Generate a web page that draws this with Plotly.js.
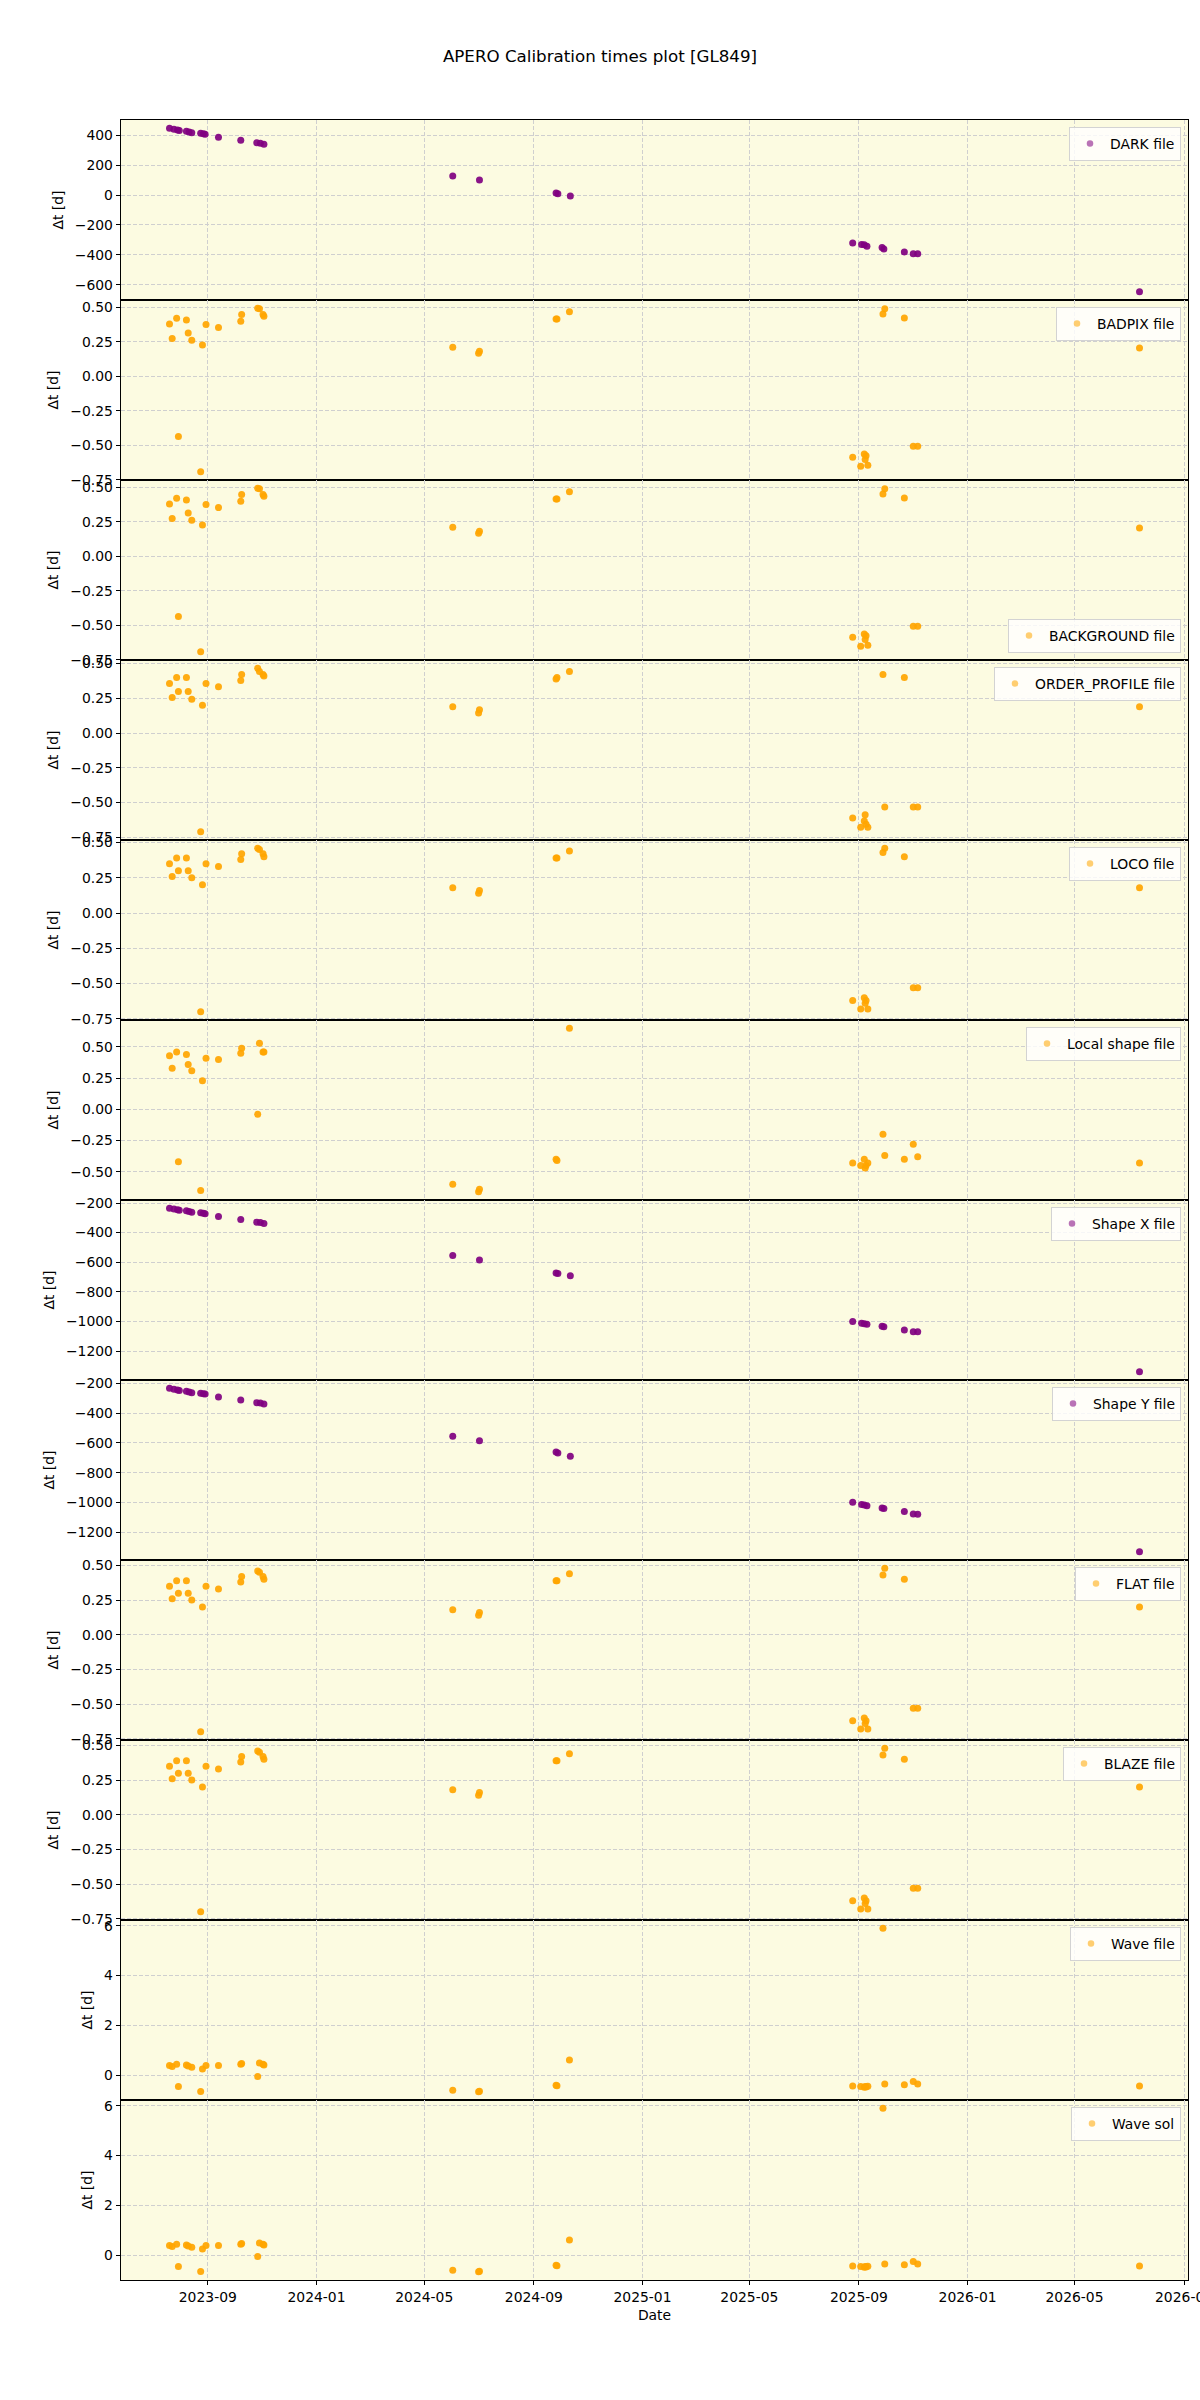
<!DOCTYPE html>
<html>
<head>
<meta charset="utf-8">
<script src="https://cdn.plot.ly/plotly-3.0.1.min.js"></script>
<style>html,body{margin:0;padding:0;background:#fff}</style>
</head>
<body>
<div id="chart" style="width:1200px;height:2400px"></div>
<script>
// Calibration file time offsets (Δt, days) per observation date, GL849

const darkDates = ['2023-07-20','2023-07-25','2023-07-29','2023-07-31','2023-08-08','2023-08-11','2023-08-14','2023-08-24','2023-08-27','2023-08-29','2023-09-13','2023-10-08','2023-10-26','2023-10-30','2023-11-03','2024-06-02','2024-07-02','2024-09-26','2024-09-28','2024-10-12','2025-08-25','2025-09-04','2025-09-07','2025-09-10','2025-09-27','2025-09-29','2025-10-22','2025-11-01','2025-11-06','2026-07-13'];
const darkDt = [447,440,435,431,427,422,417,413,409,407,387,367,349,347,340,127,100,13,9,-7,-320,-331,-333,-343,-351,-360,-380,-393,-393,-647];

const badpixDates = ['2023-07-20','2023-07-23','2023-07-28','2023-07-30','2023-08-08','2023-08-10','2023-08-14','2023-08-24','2023-08-26','2023-08-30','2023-09-13','2023-10-08','2023-10-09','2023-10-27','2023-10-29','2023-11-02','2023-11-03','2024-06-02','2024-07-01','2024-07-02','2024-09-26','2024-09-27','2024-10-11','2025-08-25','2025-09-03','2025-09-07','2025-09-08','2025-09-09','2025-09-11','2025-09-28','2025-09-30','2025-10-22','2025-11-01','2025-11-06','2026-07-13'];
const badpixDt = [0.381,0.274,0.422,-0.437,0.41,0.315,0.262,-0.693,0.228,0.376,0.354,0.40,0.449,0.495,0.49,0.449,0.437,0.211,0.167,0.182,0.417,0.417,0.47,-0.587,-0.653,-0.563,-0.604,-0.577,-0.646,0.453,0.49,0.424,-0.507,-0.507,0.206];

const backgroundDates = badpixDates.slice();
const backgroundDt = [0.381,0.274,0.422,-0.437,0.41,0.315,0.262,-0.693,0.228,0.376,0.354,0.40,0.449,0.495,0.49,0.449,0.437,0.211,0.167,0.182,0.417,0.417,0.47,-0.587,-0.653,-0.563,-0.604,-0.577,-0.646,0.453,0.49,0.424,-0.507,-0.507,0.206];

const orderProfileDates = badpixDates.slice();
const orderProfileDt = [0.356,0.256,0.40,0.30,0.40,0.30,0.244,-0.711,0.20,0.356,0.333,0.378,0.422,0.467,0.444,0.422,0.411,0.189,0.144,0.167,0.389,0.40,0.444,-0.611,-0.678,-0.633,-0.589,-0.656,-0.678,0.422,-0.533,0.40,-0.533,-0.533,0.189];

const locoDates = badpixDates.slice();
const locoDt = [0.35,0.26,0.39,0.30,0.39,0.30,0.25,-0.70,0.20,0.35,0.33,0.38,0.42,0.46,0.45,0.42,0.40,0.18,0.14,0.16,0.39,0.39,0.44,-0.62,-0.68,-0.60,-0.64,-0.62,-0.68,0.43,0.46,0.40,-0.53,-0.53,0.18];

const localShapeDates = badpixDates.slice();
const localShapeDt = [0.43,0.33,0.46,-0.42,0.44,0.36,0.31,-0.65,0.23,0.41,0.40,0.45,0.49,-0.04,0.53,0.46,0.46,-0.60,-0.66,-0.64,-0.40,-0.41,0.65,-0.43,-0.45,-0.40,-0.47,-0.45,-0.43,-0.20,-0.37,-0.40,-0.28,-0.38,-0.43];

const shapeXDates = darkDates.slice();
const shapeXDt = [-235,-240,-245,-249,-253,-258,-262,-266,-270,-272,-292,-312,-330,-332,-338,-555,-585,-672,-676,-692,-1000,-1012,-1015,-1018,-1032,-1035,-1058,-1070,-1070,-1340];

const shapeYDates = darkDates.slice();
const shapeYDt = [-231,-238,-243,-247,-252,-256,-261,-265,-268,-271,-291,-311,-329,-331,-337,-555,-585,-660,-668,-690,-1000,-1015,-1018,-1022,-1038,-1041,-1062,-1078,-1080,-1333];

const flatDates = badpixDates.slice();
const flatDt = [0.35,0.26,0.39,0.30,0.39,0.30,0.25,-0.70,0.20,0.35,0.33,0.38,0.42,0.46,0.45,0.42,0.40,0.18,0.14,0.16,0.39,0.39,0.44,-0.62,-0.68,-0.60,-0.64,-0.62,-0.68,0.43,0.48,0.40,-0.53,-0.53,0.20];

const blazeDates = badpixDates.slice();
const blazeDt = [0.35,0.26,0.39,0.30,0.39,0.30,0.25,-0.70,0.20,0.35,0.33,0.38,0.42,0.46,0.45,0.42,0.40,0.18,0.14,0.16,0.39,0.39,0.44,-0.62,-0.68,-0.60,-0.64,-0.62,-0.68,0.43,0.48,0.40,-0.53,-0.53,0.20];

const waveFileDates = badpixDates.slice();
const waveFileDt = [0.40,0.35,0.45,-0.45,0.42,0.38,0.32,-0.65,0.25,0.40,0.40,0.45,0.48,-0.05,0.50,0.45,0.42,-0.60,-0.66,-0.64,-0.40,-0.42,0.62,-0.43,-0.45,-0.48,-0.45,-0.47,-0.44,5.90,-0.35,-0.38,-0.25,-0.35,-0.43];

const waveSolDates = badpixDates.slice();
const waveSolDt = [0.40,0.35,0.45,-0.45,0.42,0.38,0.32,-0.65,0.25,0.40,0.40,0.45,0.48,-0.05,0.50,0.45,0.42,-0.60,-0.66,-0.64,-0.40,-0.42,0.62,-0.43,-0.45,-0.48,-0.45,-0.47,-0.44,5.90,-0.35,-0.38,-0.25,-0.35,-0.43];

const xTickVals = ['2023-09-01','2024-01-01','2024-05-01','2024-09-01','2025-01-01','2025-05-01','2025-09-01','2026-01-01','2026-05-01','2026-09-01'];
const xTickText = ['2023-09','2024-01','2024-05','2024-09','2025-01','2025-05','2025-09','2026-01','2026-05','2026-09'];

const PURPLE = '#800080';
const ORANGE = '#ffa500';

const panels = [
  {name: 'DARK file',          x: darkDates,         y: darkDt,         color: PURPLE, dtick: 200,  fmt: 'd',   legend: 'top'},
  {name: 'BADPIX file',        x: badpixDates,       y: badpixDt,       color: ORANGE, dtick: 0.25, fmt: '.2f', legend: 'top'},
  {name: 'BACKGROUND file',    x: backgroundDates,   y: backgroundDt,   color: ORANGE, dtick: 0.25, fmt: '.2f', legend: 'bottom'},
  {name: 'ORDER_PROFILE file', x: orderProfileDates, y: orderProfileDt, color: ORANGE, dtick: 0.25, fmt: '.2f', legend: 'top'},
  {name: 'LOCO file',          x: locoDates,         y: locoDt,         color: ORANGE, dtick: 0.25, fmt: '.2f', legend: 'top'},
  {name: 'Local shape file',   x: localShapeDates,   y: localShapeDt,   color: ORANGE, dtick: 0.25, fmt: '.2f', legend: 'top'},
  {name: 'Shape X file',       x: shapeXDates,       y: shapeXDt,       color: PURPLE, dtick: 200,  fmt: 'd',   legend: 'top'},
  {name: 'Shape Y file',       x: shapeYDates,       y: shapeYDt,       color: PURPLE, dtick: 200,  fmt: 'd',   legend: 'top'},
  {name: 'FLAT file',          x: flatDates,         y: flatDt,         color: ORANGE, dtick: 0.25, fmt: '.2f', legend: 'top'},
  {name: 'BLAZE file',         x: blazeDates,        y: blazeDt,        color: ORANGE, dtick: 0.25, fmt: '.2f', legend: 'top'},
  {name: 'Wave file',          x: waveFileDates,     y: waveFileDt,     color: ORANGE, dtick: 2,    fmt: 'd',   legend: 'top'},
  {name: 'Wave sol',           x: waveSolDates,      y: waveSolDt,      color: ORANGE, dtick: 2,    fmt: 'd',   legend: 'top'}
];

const FONT = 'DejaVu Sans, sans-serif';
const N = panels.length;
const W = 1200, H = 2400;
const M = {l: 121, r: 12, t: 120, b: 120};
const plotH = H - M.t - M.b;
const plotW = W - M.l - M.r;
const panelH = plotH / N;

// matplotlib-style autoscale: 5% padding on each side of the data span
function padRange(vals) {
  const lo = Math.min(...vals), hi = Math.max(...vals);
  const pad = (hi - lo) * 0.05;
  return [lo - pad, hi + pad];
}
function padDateRange(dates) {
  const ms = dates.map(d => new Date(d + 'T00:00:00Z').getTime());
  const [lo, hi] = padRange(ms);
  const iso = t => new Date(t).toISOString().slice(0, 19).replace('T', ' ');
  return [iso(lo), iso(hi)];
}
const xRange = padDateRange(panels.flatMap(p => p.x));

const traces = [];
const layout = {
  width: W, height: H,
  margin: M,
  paper_bgcolor: '#ffffff',
  plot_bgcolor: '#fcfbe1',
  font: {family: FONT, size: 13.9, color: '#000'},
  showlegend: true,
  title: {
    text: 'APERO Calibration times plot [GL849]',
    font: {family: FONT, size: 16.7, color: '#000'},
    x: 0.5, xanchor: 'center', xref: 'container',
    y: 1 - 56 / H, yanchor: 'middle', yref: 'container'
  }
};

panels.forEach((p, i) => {
  const k = i + 1;
  const xa = k === 1 ? 'x' : 'x' + k;
  const ya = k === 1 ? 'y' : 'y' + k;
  const lg = k === 1 ? 'legend' : 'legend' + k;
  const top = 1 - i / N, bottom = 1 - (i + 1) / N;
  const isLast = k === N;

  traces.push({
    type: 'scatter', mode: 'markers', x: p.x, y: p.y,
    xaxis: xa, yaxis: ya, showlegend: false, hoverinfo: 'x+y',
    marker: {color: p.color, size: 7, opacity: 0.92, line: {width: 0}}
  });
  // legend key: a lighter swatch of the series colour
  traces.push({
    type: 'scatter', mode: 'markers', x: [null], y: [null],
    xaxis: xa, yaxis: ya, name: p.name, legend: lg, showlegend: true,
    marker: {color: p.color, size: 6.5, opacity: 0.55}
  });

  layout[xa.replace('x', 'xaxis')] = {
    type: 'date', anchor: ya, domain: [0, 1],
    matches: k === 1 ? undefined : 'x',
    range: xRange, autorange: false,
    tickvals: xTickVals, ticktext: xTickText,
    showticklabels: isLast, ticklabeloverflow: 'allow',
    ticks: isLast ? 'outside' : '', ticklen: 4, tickwidth: 1, tickcolor: '#000',
    tickfont: {family: FONT, size: 13.9, color: '#000'},
    showgrid: true, gridcolor: '#cfcfcf', gridwidth: 1, griddash: '4px,2px',
    showline: true, mirror: true, linecolor: '#000', linewidth: 1.3,
    zeroline: false,
    title: isLast ? {text: 'Date', font: {family: FONT, size: 13.9, color: '#000'}, standoff: 6} : undefined
  };

  layout[ya.replace('y', 'yaxis')] = {
    anchor: xa, domain: [bottom, top],
    range: padRange(p.y), autorange: false,
    dtick: p.dtick, tick0: 0, tickformat: p.fmt,
    ticks: 'outside', ticklen: 4, tickwidth: 1, tickcolor: '#000',
    tickfont: {family: FONT, size: 13.9, color: '#000'},
    showgrid: true, gridcolor: '#cfcfcf', gridwidth: 1, griddash: '4px,2px',
    showline: true, mirror: true, linecolor: '#000', linewidth: 1.3,
    zeroline: false,
    title: {text: 'Δt [d]', font: {family: FONT, size: 13.9, color: '#000'}, standoff: 8}
  };

  const topPx = i * panelH;
  const legendY = p.legend === 'top'
    ? 1 - (topPx + 7) / plotH
    : 1 - (topPx + panelH - 7) / plotH;
  layout[lg] = {
    x: 1 - 7 / plotW, xanchor: 'right', xref: 'paper',
    y: legendY, yanchor: p.legend === 'top' ? 'top' : 'bottom', yref: 'paper',
    bgcolor: 'rgba(255,255,255,0.8)', bordercolor: '#d3d3d3', borderwidth: 1,
    font: {family: FONT, size: 13.9, color: '#000'}
  };
});

Plotly.newPlot('chart', traces, layout, {staticPlot: true});
</script>
</body>
</html>
